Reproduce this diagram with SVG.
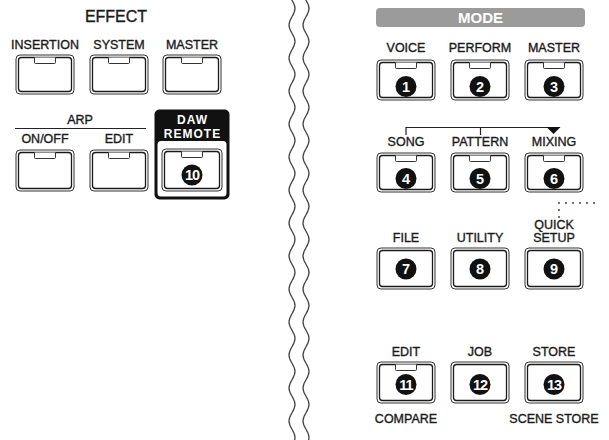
<svg xmlns="http://www.w3.org/2000/svg" width="609" height="440" viewBox="0 0 609 440">
<style>
text{font-family:"Liberation Sans",Arial,sans-serif;}
.lb{font-size:12.5px;fill:#1a1a1a;stroke:#1a1a1a;stroke-width:0.35;text-anchor:middle;}
.tt{font-size:16px;fill:#1a1a1a;stroke:#1a1a1a;stroke-width:0.35;text-anchor:middle;}
.bo{fill:#fff;stroke:#333;stroke-width:1;}
.bi{fill:none;stroke:#1a1a1a;stroke-width:1.3;}
.led{fill:#fff;stroke:#333;stroke-width:1;}
.num{fill:#111;}
.nt{font-size:14.5px;font-weight:bold;fill:#fff;text-anchor:middle;}
.dw{font-size:12px;font-weight:bold;fill:#fff;text-anchor:middle;letter-spacing:1px;}
.wave{fill:none;stroke:#444;stroke-width:1.3;}
.ln{fill:none;stroke:#222;stroke-width:1.2;}
.dot{fill:#333;}
</style>

<g id="waves">
<path class="wave" d="M292,-16.25 c-4,6.5 -4,10 0,16.5 c4,6.5 4,10 0,16.5 c-4,6.5 -4,10 0,16.5 c4,6.5 4,10 0,16.5 c-4,6.5 -4,10 0,16.5 c4,6.5 4,10 0,16.5 c-4,6.5 -4,10 0,16.5 c4,6.5 4,10 0,16.5 c-4,6.5 -4,10 0,16.5 c4,6.5 4,10 0,16.5 c-4,6.5 -4,10 0,16.5 c4,6.5 4,10 0,16.5 c-4,6.5 -4,10 0,16.5 c4,6.5 4,10 0,16.5 c-4,6.5 -4,10 0,16.5 c4,6.5 4,10 0,16.5 c-4,6.5 -4,10 0,16.5 c4,6.5 4,10 0,16.5 c-4,6.5 -4,10 0,16.5 c4,6.5 4,10 0,16.5 c-4,6.5 -4,10 0,16.5 c4,6.5 4,10 0,16.5 c-4,6.5 -4,10 0,16.5 c4,6.5 4,10 0,16.5 c-4,6.5 -4,10 0,16.5 c4,6.5 4,10 0,16.5 c-4,6.5 -4,10 0,16.5 c4,6.5 4,10 0,16.5"/>
<path class="wave" d="M306,-16.25 c-4,6.5 -4,10 0,16.5 c4,6.5 4,10 0,16.5 c-4,6.5 -4,10 0,16.5 c4,6.5 4,10 0,16.5 c-4,6.5 -4,10 0,16.5 c4,6.5 4,10 0,16.5 c-4,6.5 -4,10 0,16.5 c4,6.5 4,10 0,16.5 c-4,6.5 -4,10 0,16.5 c4,6.5 4,10 0,16.5 c-4,6.5 -4,10 0,16.5 c4,6.5 4,10 0,16.5 c-4,6.5 -4,10 0,16.5 c4,6.5 4,10 0,16.5 c-4,6.5 -4,10 0,16.5 c4,6.5 4,10 0,16.5 c-4,6.5 -4,10 0,16.5 c4,6.5 4,10 0,16.5 c-4,6.5 -4,10 0,16.5 c4,6.5 4,10 0,16.5 c-4,6.5 -4,10 0,16.5 c4,6.5 4,10 0,16.5 c-4,6.5 -4,10 0,16.5 c4,6.5 4,10 0,16.5 c-4,6.5 -4,10 0,16.5 c4,6.5 4,10 0,16.5 c-4,6.5 -4,10 0,16.5 c4,6.5 4,10 0,16.5"/>
</g>

<!-- EFFECT section -->
<g id="effect-title"><text class="tt" x="116" y="22">EFFECT</text></g>

<g id="insertion">
<text class="lb" x="45" y="49">INSERTION</text>
<rect class="bo" x="16" y="55" width="58" height="39" rx="4"/>
<rect class="bi" x="18.5" y="57.5" width="53" height="34" rx="3"/>
<path class="led" d="M34.5,57.5 v5 q0,1 1,1 h19 q1,0 1,-1 v-5"/>
</g>
<g id="system">
<text class="lb" x="119" y="49">SYSTEM</text>
<rect class="bo" x="90" y="55" width="58" height="39" rx="4"/>
<rect class="bi" x="92.5" y="57.5" width="53" height="34" rx="3"/>
<path class="led" d="M108.5,57.5 v5 q0,1 1,1 h19 q1,0 1,-1 v-5"/>
</g>
<g id="master-effect">
<text class="lb" x="192" y="49">MASTER</text>
<rect class="bo" x="163" y="55" width="58" height="39" rx="4"/>
<rect class="bi" x="165.5" y="57.5" width="53" height="34" rx="3"/>
<path class="led" d="M181.5,57.5 v5 q0,1 1,1 h19 q1,0 1,-1 v-5"/>
</g>

<g id="arp-title">
<text class="lb" x="80" y="124">ARP</text>
<line class="ln" x1="15" y1="128.5" x2="146" y2="128.5"/>
</g>
<g id="arp-onoff">
<text class="lb" x="45" y="143">ON/OFF</text>
<rect class="bo" x="16" y="150" width="58" height="41" rx="4"/>
<rect class="bi" x="18.5" y="152.5" width="53" height="36" rx="3"/>
<path class="led" d="M34.5,152.5 v5 q0,1 1,1 h19 q1,0 1,-1 v-5"/>
</g>
<g id="arp-edit">
<text class="lb" x="119" y="143">EDIT</text>
<rect class="bo" x="90" y="150" width="58" height="41" rx="4"/>
<rect class="bi" x="92.5" y="152.5" width="53" height="36" rx="3"/>
<path class="led" d="M108.5,152.5 v5 q0,1 1,1 h19 q1,0 1,-1 v-5"/>
</g>
<g id="daw-remote">
<rect x="154.5" y="109.5" width="75" height="90" rx="5" fill="#111"/>
<rect x="157.5" y="141" width="69" height="55.5" rx="3.5" fill="#fff"/>
<text class="dw" x="192.5" y="124">DAW</text>
<text class="dw" x="192.5" y="137.5">REMOTE</text>
<rect class="bo" x="162" y="149" width="60" height="42" rx="4"/>
<rect class="bi" x="164.5" y="151.5" width="55" height="37" rx="3"/>
<path class="led" d="M181.5,151.5 v5 q0,1 1,1 h19 q1,0 1,-1 v-5"/>
<circle class="num" cx="192" cy="175" r="10.5"/>
<text class="nt" x="192" y="180.2" style="letter-spacing:-1px">10</text>
</g>

<!-- MODE section -->
<g id="mode-title">
<rect x="376" y="8" width="209" height="19" rx="4" fill="#9b9b9b"/>
<text x="480.5" y="23" style="font-size:15px;font-weight:bold;fill:#fff;text-anchor:middle">MODE</text>
</g>

<g id="voice">
<text class="lb" x="406" y="52">VOICE</text>
<rect class="bo" x="377" y="60" width="58" height="40" rx="4"/>
<rect class="bi" x="379.5" y="62.5" width="53" height="35" rx="3"/>
<path class="led" d="M395.5,62.5 v5 q0,1 1,1 h19 q1,0 1,-1 v-5"/>
<circle class="num" cx="406" cy="86.5" r="10.5"/>
<text class="nt" x="406" y="91.7">1</text>
</g>
<g id="perform">
<text class="lb" x="480" y="52">PERFORM</text>
<rect class="bo" x="451" y="60" width="58" height="40" rx="4"/>
<rect class="bi" x="453.5" y="62.5" width="53" height="35" rx="3"/>
<path class="led" d="M469.5,62.5 v5 q0,1 1,1 h19 q1,0 1,-1 v-5"/>
<circle class="num" cx="480" cy="86.5" r="10.5"/>
<text class="nt" x="480" y="91.7">2</text>
</g>
<g id="master-mode">
<text class="lb" x="554" y="52">MASTER</text>
<rect class="bo" x="525" y="60" width="58" height="40" rx="4"/>
<rect class="bi" x="527.5" y="62.5" width="53" height="35" rx="3"/>
<path class="led" d="M543.5,62.5 v5 q0,1 1,1 h19 q1,0 1,-1 v-5"/>
<circle class="num" cx="554" cy="86.5" r="10.5"/>
<text class="nt" x="554" y="91.7">3</text>
</g>

<g id="song">
<text class="lb" x="406" y="146">SONG</text>
<rect class="bo" x="377" y="153" width="58" height="39" rx="4"/>
<rect class="bi" x="379.5" y="155.5" width="53" height="34" rx="3"/>
<path class="led" d="M395.5,155.5 v5 q0,1 1,1 h19 q1,0 1,-1 v-5"/>
<circle class="num" cx="406" cy="178.5" r="10.5"/>
<text class="nt" x="406" y="183.7">4</text>
</g>
<g id="pattern">
<text class="lb" x="480" y="146">PATTERN</text>
<rect class="bo" x="451" y="153" width="58" height="39" rx="4"/>
<rect class="bi" x="453.5" y="155.5" width="53" height="34" rx="3"/>
<path class="led" d="M469.5,155.5 v5 q0,1 1,1 h19 q1,0 1,-1 v-5"/>
<circle class="num" cx="480" cy="178.5" r="10.5"/>
<text class="nt" x="480" y="183.7">5</text>
</g>
<g id="mixing">
<text class="lb" x="554" y="146">MIXING</text>
<rect class="bo" x="525" y="153" width="58" height="39" rx="4"/>
<rect class="bi" x="527.5" y="155.5" width="53" height="34" rx="3"/>
<path class="led" d="M543.5,155.5 v5 q0,1 1,1 h19 q1,0 1,-1 v-5"/>
<circle class="num" cx="554" cy="178.5" r="10.5"/>
<text class="nt" x="554" y="183.7">6</text>
</g>

<g id="file">
<text class="lb" x="406" y="242">FILE</text>
<rect class="bo" x="377" y="248" width="58" height="41" rx="4"/>
<rect class="bi" x="379.5" y="250.5" width="53" height="36" rx="3"/>
<circle class="num" cx="406" cy="269" r="10.5"/>
<text class="nt" x="406" y="274.2">7</text>
</g>
<g id="utility">
<text class="lb" x="480" y="242">UTILITY</text>
<rect class="bo" x="451" y="248" width="58" height="41" rx="4"/>
<rect class="bi" x="453.5" y="250.5" width="53" height="36" rx="3"/>
<circle class="num" cx="480" cy="269" r="10.5"/>
<text class="nt" x="480" y="274.2">8</text>
</g>
<g id="quick-setup">
<text class="lb" x="554" y="229">QUICK</text>
<text class="lb" x="554" y="242">SETUP</text>
<rect class="bo" x="525" y="248" width="58" height="41" rx="4"/>
<rect class="bi" x="527.5" y="250.5" width="53" height="36" rx="3"/>
<circle class="num" cx="554" cy="269" r="10.5"/>
<text class="nt" x="554" y="274.2">9</text>
</g>

<g id="edit">
<text class="lb" x="406" y="356">EDIT</text>
<rect class="bo" x="377" y="362" width="58" height="41" rx="4"/>
<rect class="bi" x="379.5" y="364.5" width="53" height="36" rx="3"/>
<path class="led" d="M395.5,364.5 v5 q0,1 1,1 h19 q1,0 1,-1 v-5"/>
<circle class="num" cx="406" cy="384.5" r="10.5"/>
<text class="nt" x="406" y="389.7" style="letter-spacing:-1px">11</text>
<text class="lb" x="406" y="423">COMPARE</text>
</g>
<g id="job">
<text class="lb" x="480" y="356">JOB</text>
<rect class="bo" x="451" y="362" width="58" height="41" rx="4"/>
<rect class="bi" x="453.5" y="364.5" width="53" height="36" rx="3"/>
<circle class="num" cx="480" cy="384.5" r="10.5"/>
<text class="nt" x="480" y="389.7" style="letter-spacing:-1px">12</text>
</g>
<g id="store">
<text class="lb" x="554" y="356">STORE</text>
<rect class="bo" x="525" y="362" width="58" height="41" rx="4"/>
<rect class="bi" x="527.5" y="364.5" width="53" height="36" rx="3"/>
<circle class="num" cx="554" cy="384.5" r="10.5"/>
<text class="nt" x="554" y="389.7" style="letter-spacing:-1px">13</text>
<text class="lb" x="554" y="423">SCENE STORE</text>
</g>

<g id="connectors">
<path class="ln" d="M406,135 V127.5 H560 M480.5,127.5 V135"/>
<path d="M546.5,127 H560.5 L553.5,134 Z" fill="#111"/>
<circle class="dot" cx="559" cy="203" r="0.9"/>
<circle class="dot" cx="566" cy="203" r="0.9"/>
<circle class="dot" cx="573" cy="203" r="0.9"/>
<circle class="dot" cx="580" cy="203" r="0.9"/>
<circle class="dot" cx="587" cy="203" r="0.9"/>
<circle class="dot" cx="594" cy="203" r="0.9"/>
<circle class="dot" cx="559" cy="210" r="0.9"/>
<circle class="dot" cx="559" cy="217" r="0.9"/>
</g>
</svg>
